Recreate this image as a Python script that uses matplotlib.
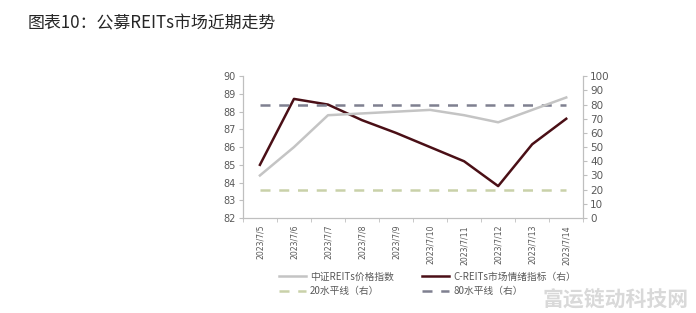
import matplotlib.pyplot as plt
import numpy as np

plt.rcParams['font.family'] = ['Noto Sans CJK SC', 'DejaVu Sans']

dates = ['2023/7/5', '2023/7/6', '2023/7/7', '2023/7/8', '2023/7/9',
         '2023/7/10', '2023/7/11', '2023/7/12', '2023/7/13', '2023/7/14']
reits_index = [84.4, 86.0, 87.8, 87.9, 88.0, 88.1, 87.8, 87.4, 88.1, 88.8]
sentiment = [37.5, 84, 80, 69, 60, 50, 40, 22.5, 52, 70]
level20 = [20] * len(dates)
level80 = [80] * len(dates)

fig = plt.figure(figsize=(6.96, 3.13), dpi=100)
ax = fig.add_axes([0.349, 0.3035, 0.489, 0.453])
ax2 = ax.twinx()

x = np.arange(len(dates))
l1, = ax.plot(x, reits_index, color='#c4c4c4', lw=1.8, label='中证REITs价格指数')
l2, = ax2.plot(x, sentiment, color='#4a0f16', lw=1.8, label='C-REITs市场情绪指标（右）')
l3, = ax2.plot(x, level20, color='#c9d1a9', lw=1.8, dashes=(4, 3.5), label='20水平线（右）')
l4, = ax2.plot(x, level80, color='#7f8090', lw=1.8, dashes=(4, 3.5), label='80水平线（右）')
ax.set_zorder(ax2.get_zorder() + 1)
ax.patch.set_visible(False)

ax.set_xlim(-0.5, len(dates) - 0.5)
ax.set_ylim(82, 90)
ax.set_yticks(range(82, 91))
ax2.set_ylim(0, 100)
ax2.set_yticks(range(0, 101, 10))

ax.set_xticks(x)
ax.set_xticklabels(dates, rotation=90, fontsize=5.6, color='#595959',
                   family='DejaVu Sans')
ax.set_xticks(np.arange(-0.5, len(dates)), minor=True)
ax.tick_params(axis='x', which='major', length=0, pad=5)
ax.tick_params(axis='x', which='minor', length=3, color='#bfbfbf')
ax.tick_params(axis='y', labelsize=7, colors='#595959', length=3, pad=2)
ax2.tick_params(axis='y', labelsize=7.5, colors='#595959', length=3, pad=2)
for lab in ax.get_yticklabels() + ax2.get_yticklabels():
    lab.set_family('DejaVu Sans')
ax.tick_params(axis='y', color='#bfbfbf')
ax2.tick_params(axis='y', color='#bfbfbf')

for a in (ax, ax2):
    a.spines['top'].set_visible(False)
    for s in ('left', 'right', 'bottom'):
        a.spines[s].set_color('#bfbfbf')

fig.legend([l1, l3, l2, l4], [l.get_label() for l in (l1, l3, l2, l4)],
           ncol=2, loc='upper left', bbox_to_anchor=(0.388, 0.16),
           frameon=False, fontsize=7, handlelength=2.8, handletextpad=0.4,
           columnspacing=2.9, labelspacing=0.45, labelcolor='#595959')

fig.text(0.039, 0.925, '图表10：公募REITs市场近期走势', fontsize=12.2,
         color='#262626', va='center')
fig.text(0.99, 0.045, '富运链动科技网', fontsize=15, color='#d9d9d9',
         fontweight='bold', ha='right', va='center')

fig.savefig('out.png', dpi=100)
